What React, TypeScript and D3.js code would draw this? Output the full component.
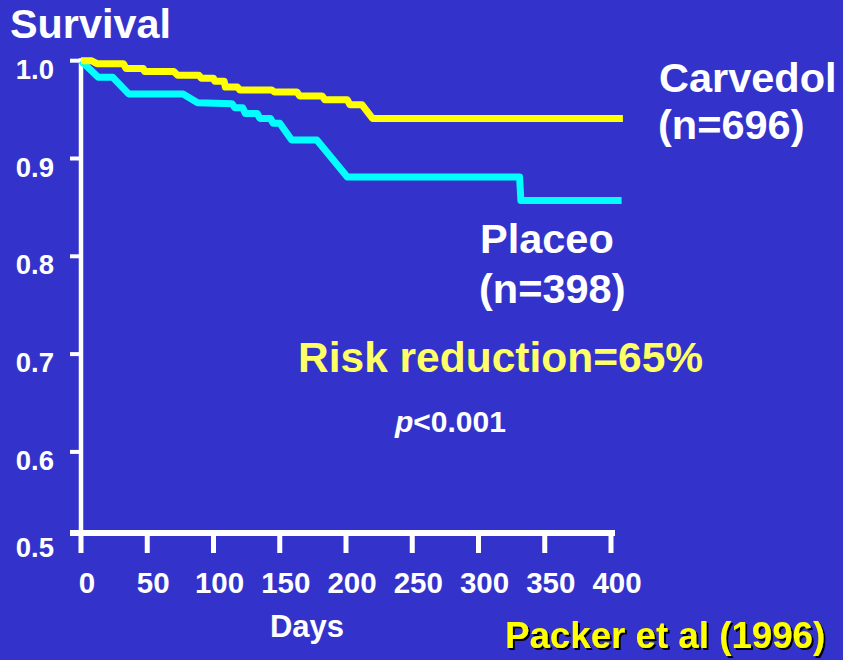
import React from "react";
import * as d3 from "d3";

// ---- data ----
const carvedilolDays = [0, 8, 12, 32, 34, 47, 48, 70, 73, 89, 91, 100, 101, 108, 109, 118, 120, 144, 146, 163, 165, 182, 184, 201, 203, 212, 220, 409];
const carvedilolSurv = [1.0, 1.0, 0.997, 0.997, 0.992, 0.992, 0.989, 0.989, 0.985, 0.985, 0.982, 0.982, 0.979, 0.979, 0.973, 0.973, 0.970, 0.970, 0.968, 0.968, 0.964, 0.964, 0.960, 0.960, 0.955, 0.955, 0.941, 0.941];

const placeboDays = [0, 13, 24, 36, 77, 88, 114, 116, 122, 124, 133, 135, 143, 145, 150, 159, 178, 201, 331, 332, 408];
const placeboSurv = [1.0, 0.983, 0.983, 0.966, 0.966, 0.957, 0.956, 0.952, 0.952, 0.946, 0.946, 0.941, 0.941, 0.936, 0.936, 0.919, 0.919, 0.881, 0.881, 0.857, 0.857];

const xTicks = [0, 50, 100, 150, 200, 250, 300, 350, 400];
const yTicks = [1.0, 0.9, 0.8, 0.7, 0.6, 0.5];
const yTickLabels = ["1.0", "0.9", "0.8", "0.7", "0.6", "0.5"];

const FONT = "'Liberation Sans', Arial, Helvetica, sans-serif";
const BG = "#3333CC";

export default function App() {
  const W = 843;
  const H = 660;
  const x = d3.scaleLinear().domain([0, 400]).range([81, 611]);
  const y = d3.scaleLinear().domain([0.5, 1.0]).range([549.7, 60.7]);
  const axisY = 533;

  const line = d3
    .line<[number, number]>()
    .x((d) => x(d[0]))
    .y((d) => y(d[1]))
    .curve(d3.curveLinear);

  const carv = carvedilolDays.map((d, i) => [d, carvedilolSurv[i]] as [number, number]);
  const plac = placeboDays.map((d, i) => [d, placeboSurv[i]] as [number, number]);

  return (
    <svg
      width={W}
      height={H}
      style={{ position: "absolute", left: 0, top: 0, display: "block" }}
      fontFamily={FONT}
    >
      <defs>
        <filter id="shadow" x="-5%" y="-20%" width="110%" height="140%">
          <feDropShadow dx={2} dy={2} stdDeviation={0} floodColor="#000" floodOpacity={1} />
        </filter>
      </defs>
      <rect x={0} y={0} width={W} height={H} fill={BG} />

      {/* title */}
      <text x={10} y={37.5} fill="#fff" fontSize={40.5} fontWeight="bold" textLength={161} lengthAdjust="spacingAndGlyphs">
        Survival
      </text>

      {/* y axis */}
      <line x1={x(0)} x2={x(0)} y1={y(1.0) - 2.5} y2={axisY} stroke="#fff" strokeWidth={4.5} />
      {yTicks.map((v, i) =>
        v > 0.5 ? (
          <line key={"yt" + i} x1={70} x2={x(0)} y1={y(v)} y2={y(v)} stroke="#fff" strokeWidth={4} />
        ) : null
      )}
      {yTicks.map((v, i) => (
        <text
          key={"yl" + i}
          x={54}
          y={v > 0.5 ? y(v) + 18 : axisY + 24}
          fill="#fff"
          fontSize={27.5}
          fontWeight="bold"
          textAnchor="end"
        >
          {yTickLabels[i]}
        </text>
      ))}

      {/* x axis */}
      <line x1={70} x2={x(400) + 4} y1={axisY} y2={axisY} stroke="#fff" strokeWidth={6} />
      {xTicks.map((t) => (
        <line key={"xt" + t} x1={x(t)} x2={x(t)} y1={axisY} y2={axisY + 20} stroke="#fff" strokeWidth={5} />
      ))}
      {xTicks.map((t) => (
        <text
          key={"xl" + t}
          x={x(t) + 6}
          y={593}
          fill="#fff"
          fontSize={29.5}
          fontWeight="bold"
          textAnchor="middle"
        >
          {t}
        </text>
      ))}
      <text x={307} y={637} fill="#fff" fontSize={31} fontWeight="bold" textAnchor="middle">
        Days
      </text>

      {/* curves */}
      <path d={line(plac) || ""} fill="none" stroke="#00FFFF" strokeWidth={7} strokeLinejoin="round" />
      <path d={line(carv) || ""} fill="none" stroke="#FFFF00" strokeWidth={7} strokeLinejoin="round" />

      {/* annotations */}
      <text x={659} y={92} fill="#fff" fontSize={41.5} fontWeight="bold">
        Carvedol
      </text>
      <text x={658} y={139} fill="#fff" fontSize={41.5} fontWeight="bold">
        (n=696)
      </text>
      <text x={480} y={253} fill="#fff" fontSize={41.5} fontWeight="bold">
        Placeo
      </text>
      <text x={479} y={303} fill="#fff" fontSize={41.5} fontWeight="bold">
        (n=398)
      </text>
      <text x={298} y={372} fill="#FFFF66" fontSize={42.5} fontWeight="bold">
        Risk reduction=65%
      </text>
      <text x={395} y={432} fill="#fff" fontSize={30} fontWeight="bold">
        <tspan fontStyle="italic">p</tspan>
        {"<0.001"}
      </text>

      {/* citation with shadow */}
      <text x={505} y={648} fill="#FFFF00" fontSize={36.7} fontWeight="bold" filter="url(#shadow)">
        Packer et al (1996)
      </text>
    </svg>
  );
}
